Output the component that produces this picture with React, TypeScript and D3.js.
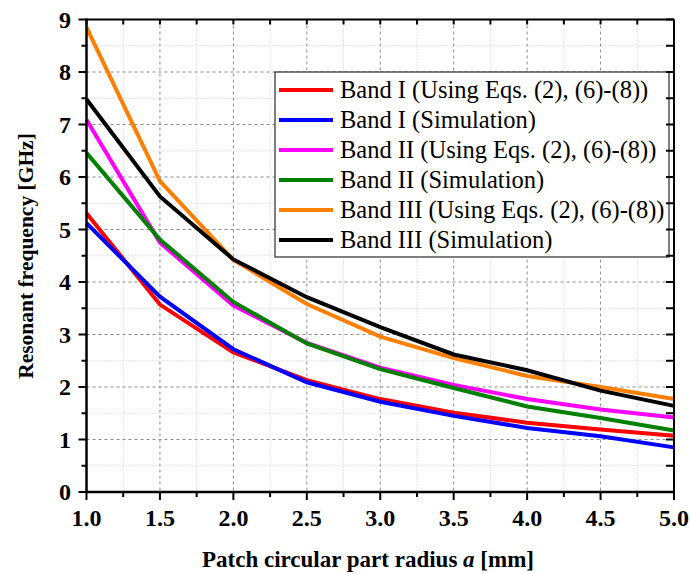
import React from "react";
import * as d3 from "d3";

const radius = [1.0, 1.5, 2.0, 2.5, 3.0, 3.5, 4.0, 4.5, 5.0];
const band1Eq = [5.31, 3.57, 2.66, 2.13, 1.77, 1.51, 1.32, 1.19, 1.07];
const band1Sim = [5.12, 3.72, 2.72, 2.09, 1.72, 1.45, 1.22, 1.06, 0.85];
const band2Eq = [7.09, 4.75, 3.55, 2.84, 2.37, 2.04, 1.77, 1.57, 1.42];
const band2Sim = [6.46, 4.81, 3.62, 2.83, 2.34, 1.98, 1.63, 1.41, 1.17];
const band3Eq = [8.85, 5.92, 4.42, 3.58, 2.96, 2.55, 2.21, 2.0, 1.77];
const band3Sim = [7.48, 5.63, 4.43, 3.71, 3.14, 2.62, 2.32, 1.93, 1.64];

const seriesNames = [
  "Band I (Using Eqs. (2), (6)-(8))",
  "Band I (Simulation)",
  "Band II (Using Eqs. (2), (6)-(8))",
  "Band II (Simulation)",
  "Band III (Using Eqs. (2), (6)-(8))",
  "Band III (Simulation)",
];
const seriesValues = [band1Eq, band1Sim, band2Eq, band2Sim, band3Eq, band3Sim];
const seriesColors = ["#ff0000", "#0000ff", "#ff00ff", "#008000", "#ff8000", "#000000"];

const xTickLabels = ["1.0", "1.5", "2.0", "2.5", "3.0", "3.5", "4.0", "4.5", "5.0"];
const yTickLabels = ["0", "1", "2", "3", "4", "5", "6", "7", "8", "9"];

const xTitle = "Patch circular part radius ";
const yTitle = "Resonant frequency [GHz]";

export default function App() {
  const L = 86.5, R = 674, T = 19.5, B = 492;
  const x = d3.scaleLinear().domain([1, 5]).range([L, R]);
  const y = d3.scaleLinear().domain([0, 9]).range([B, T]);

  const xMajor = d3.range(1, 5.0001, 0.5);
  const xMinor = d3.range(1.25, 5, 0.5);
  const yMajor = d3.range(0, 9.0001, 1);
  const yMinor = d3.range(0.5, 9, 1);

  const line = d3
    .line<number>()
    .x((_, i) => x(radius[i]))
    .y((v) => y(v));

  const serif = "'Liberation Serif', 'Times New Roman', serif";

  return (
    <svg
      width={690}
      height={574}
      style={{ position: "absolute", left: 0, top: 0, background: "#fff" }}
    >
      {xMinor.map((v) => (
        <line key={"gxm" + v} x1={x(v)} x2={x(v)} y1={T} y2={B} stroke="#c8c8c8" strokeWidth={1} strokeDasharray="1,2" />
      ))}
      {yMinor.map((v) => (
        <line key={"gym" + v} x1={L} x2={R} y1={y(v)} y2={y(v)} stroke="#c8c8c8" strokeWidth={1} strokeDasharray="1,2" />
      ))}
      {xMajor.slice(1, -1).map((v) => (
        <line key={"gx" + v} x1={x(v)} x2={x(v)} y1={T} y2={B} stroke="#8c8c8c" strokeWidth={1} strokeDasharray="3,3" />
      ))}
      {yMajor.slice(1, -1).map((v) => (
        <line key={"gy" + v} x1={L} x2={R} y1={y(v)} y2={y(v)} stroke="#8c8c8c" strokeWidth={1} strokeDasharray="3,3" />
      ))}

      {seriesValues.map((vals, i) => (
        <path key={"s" + i} d={line(vals) || ""} fill="none" stroke={seriesColors[i]} strokeWidth={4} strokeLinejoin="miter" />
      ))}

      <rect x={275} y={72} width={394} height={185} fill="#fff" stroke="#000" strokeWidth={1} />
      {seriesNames.map((name, i) => (
        <g key={"lg" + i}>
          <line x1={279} x2={333} y1={90 + 30 * i} y2={90 + 30 * i} stroke={seriesColors[i]} strokeWidth={4} />
          <text x={340} y={90 + 30 * i} dy="0.33em" fontFamily={serif} fontSize={24.5} fill="#000">
            {name}
          </text>
        </g>
      ))}

      <line x1={L} x2={R} y1={T} y2={T} stroke="#000" strokeWidth={2} />
      <line x1={R} x2={R} y1={T} y2={B} stroke="#000" strokeWidth={2} />
      <line x1={L} x2={L} y1={T - 1} y2={B + 1} stroke="#000" strokeWidth={2.5} />
      <line x1={L - 1} x2={R + 1} y1={B} y2={B} stroke="#000" strokeWidth={2.5} />

      {yMajor.map((v) => (
        <line key={"lt" + v} x1={L - 8} x2={L} y1={y(v)} y2={y(v)} stroke="#000" strokeWidth={2} />
      ))}
      {yMinor.map((v) => (
        <line key={"ltm" + v} x1={L - 5} x2={L} y1={y(v)} y2={y(v)} stroke="#000" strokeWidth={2} />
      ))}
      {[...yMajor, ...yMinor].map((v) => (
        <line key={"rt" + v} x1={R - 8} x2={R} y1={y(v)} y2={y(v)} stroke="#000" strokeWidth={2} />
      ))}
      {xMajor.map((v) => (
        <line key={"bt" + v} x1={x(v)} x2={x(v)} y1={B} y2={B + 8} stroke="#000" strokeWidth={2} />
      ))}
      {xMinor.map((v) => (
        <line key={"btm" + v} x1={x(v)} x2={x(v)} y1={B} y2={B + 5} stroke="#000" strokeWidth={2} />
      ))}
      {[...xMajor, ...xMinor].map((v) => (
        <line key={"tt" + v} x1={x(v)} x2={x(v)} y1={T} y2={T + 5} stroke="#000" strokeWidth={2} />
      ))}

      {yMajor.map((v, i) => (
        <text key={"yl" + v} x={71} y={y(v)} dy="0.34em" textAnchor="end" fontFamily={serif} fontWeight="bold" fontSize={24} fill="#000">
          {yTickLabels[i]}
        </text>
      ))}
      {xMajor.map((v, i) => (
        <text key={"xl" + v} x={x(v)} y={526} textAnchor="middle" fontFamily={serif} fontWeight="bold" fontSize={24} fill="#000">
          {xTickLabels[i]}
        </text>
      ))}

      <text x={368} y={567} textAnchor="middle" fontFamily={serif} fontWeight="bold" fontSize={23} fill="#000">
        {xTitle}
        <tspan fontStyle="italic">a</tspan>
        {" [mm]"}
      </text>
      <text
        transform={`translate(33, 256) rotate(-90)`}
        textAnchor="middle"
        fontFamily={serif}
        fontWeight="bold"
        fontSize={21.5}
        fill="#000"
      >
        {yTitle}
      </text>
    </svg>
  );
}
